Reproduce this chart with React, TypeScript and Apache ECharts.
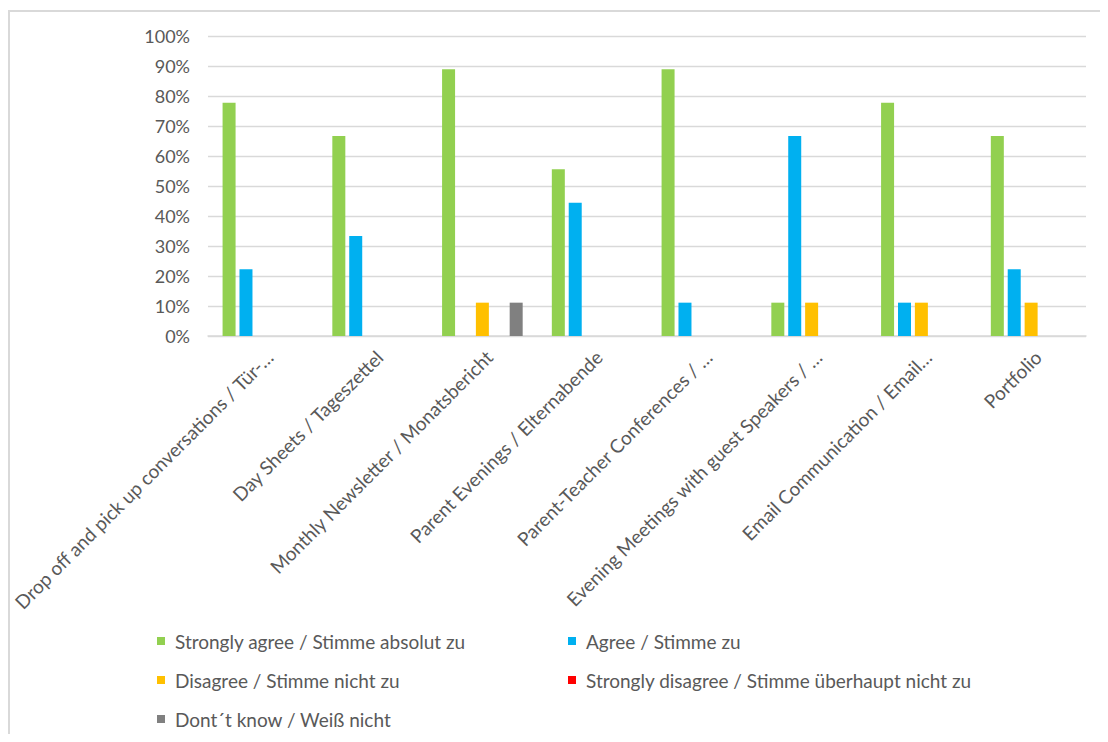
import React, { useEffect, useRef } from "react";
import * as echarts from "echarts";

const categories = [
  "Drop off and pick up conversations / Tür-…",
  "Day Sheets / Tageszettel",
  "Monthly Newsletter / Monatsbericht",
  "Parent Evenings / Elternabende",
  "Parent-Teacher Conferences / …",
  "Evening Meetings with guest Speakers / …",
  "Email Communication / Email…",
  "Portfolio",
];

const seriesNames = [
  "Strongly agree / Stimme absolut zu",
  "Agree / Stimme zu",
  "Disagree / Stimme nicht zu",
  "Strongly disagree / Stimme überhaupt nicht zu",
  "Dont´t know / Weiß nicht",
];

const stronglyAgree = [77.78, 66.67, 88.89, 55.56, 88.89, 11.11, 77.78, 66.67];
const agree = [22.22, 33.33, 0, 44.44, 11.11, 66.67, 11.11, 22.22];
const disagree = [0, 0, 11.11, 0, 0, 11.11, 11.11, 11.11];
const stronglyDisagree = [0, 0, 0, 0, 0, 0, 0, 0];
const dontKnow = [0, 0, 11.11, 0, 0, 0, 0, 0];

const seriesData = [stronglyAgree, agree, disagree, stronglyDisagree, dontKnow];
const seriesColors = ["#92D050", "#00B0F0", "#FFC000", "#FF0000", "#808080"];

// legend grid placement: [column, row] per series
const legendCells = [
  [0, 0],
  [1, 0],
  [0, 1],
  [1, 1],
  [0, 2],
];
const legendColLeft = [149, 560];
const legendRowTop = [623, 662, 701];

const FONT = "Lato";
const TEXT_COLOR = "#595959";
const GRID_COLOR = "#d9d9d9";
const FS = 19;
const FS_Y = 18;

export default function App() {
  const ref = useRef<HTMLDivElement>(null);

  useEffect(() => {
    if (!ref.current) return;
    const chart = echarts.init(ref.current, undefined, { renderer: "svg" });
    const legendText = {
      color: TEXT_COLOR,
      fontFamily: FONT,
      fontSize: FS,
      lineHeight: 20,
      padding: [0, 0, 0, 5],
    };
    chart.setOption({
      animation: false,
      backgroundColor: "#ffffff",
      textStyle: { fontFamily: FONT },
      graphic: [
        {
          type: "rect",
          silent: true,
          shape: { x: 1, y: 3, width: 1300, height: 1000 },
          style: { fill: "none", stroke: GRID_COLOR, lineWidth: 2 },
        },
      ],
      grid: { left: 200, right: 14, top: 28, bottom: 398, containLabel: false },
      legend: seriesNames.map((name, i) => ({
        orient: "horizontal",
        left: legendColLeft[legendCells[i][0]],
        top: legendRowTop[legendCells[i][1]],
        padding: 0,
        icon: "rect",
        itemWidth: 8,
        itemHeight: 8,
        selectedMode: false,
        textStyle: legendText,
        data: [name],
      })),
      xAxis: {
        type: "category",
        data: categories,
        axisLine: { show: true, lineStyle: { color: GRID_COLOR, width: 1.5 } },
        axisTick: { show: false },
        axisLabel: {
          interval: 0,
          rotate: 45,
          margin: 11,
          color: TEXT_COLOR,
          fontFamily: FONT,
          fontSize: FS,
          verticalAlign: "top",
        },
      },
      yAxis: {
        type: "value",
        min: 0,
        max: 100,
        interval: 10,
        axisLine: { show: false },
        axisTick: { show: false },
        axisLabel: {
          formatter: "{value}%",
          color: TEXT_COLOR,
          fontFamily: FONT,
          fontSize: FS_Y,
          margin: 18,
        },
        splitLine: { lineStyle: { color: GRID_COLOR, width: 1.4 } },
      },
      series: seriesNames.map((name, i) => ({
        name,
        type: "bar",
        data: seriesData[i],
        barWidth: 13,
        barGap: "30%",
        itemStyle: { color: seriesColors[i] },
      })),
    });
    return () => chart.dispose();
  }, []);

  return <div ref={ref} style={{ width: 1092, height: 726 }} />;
}
